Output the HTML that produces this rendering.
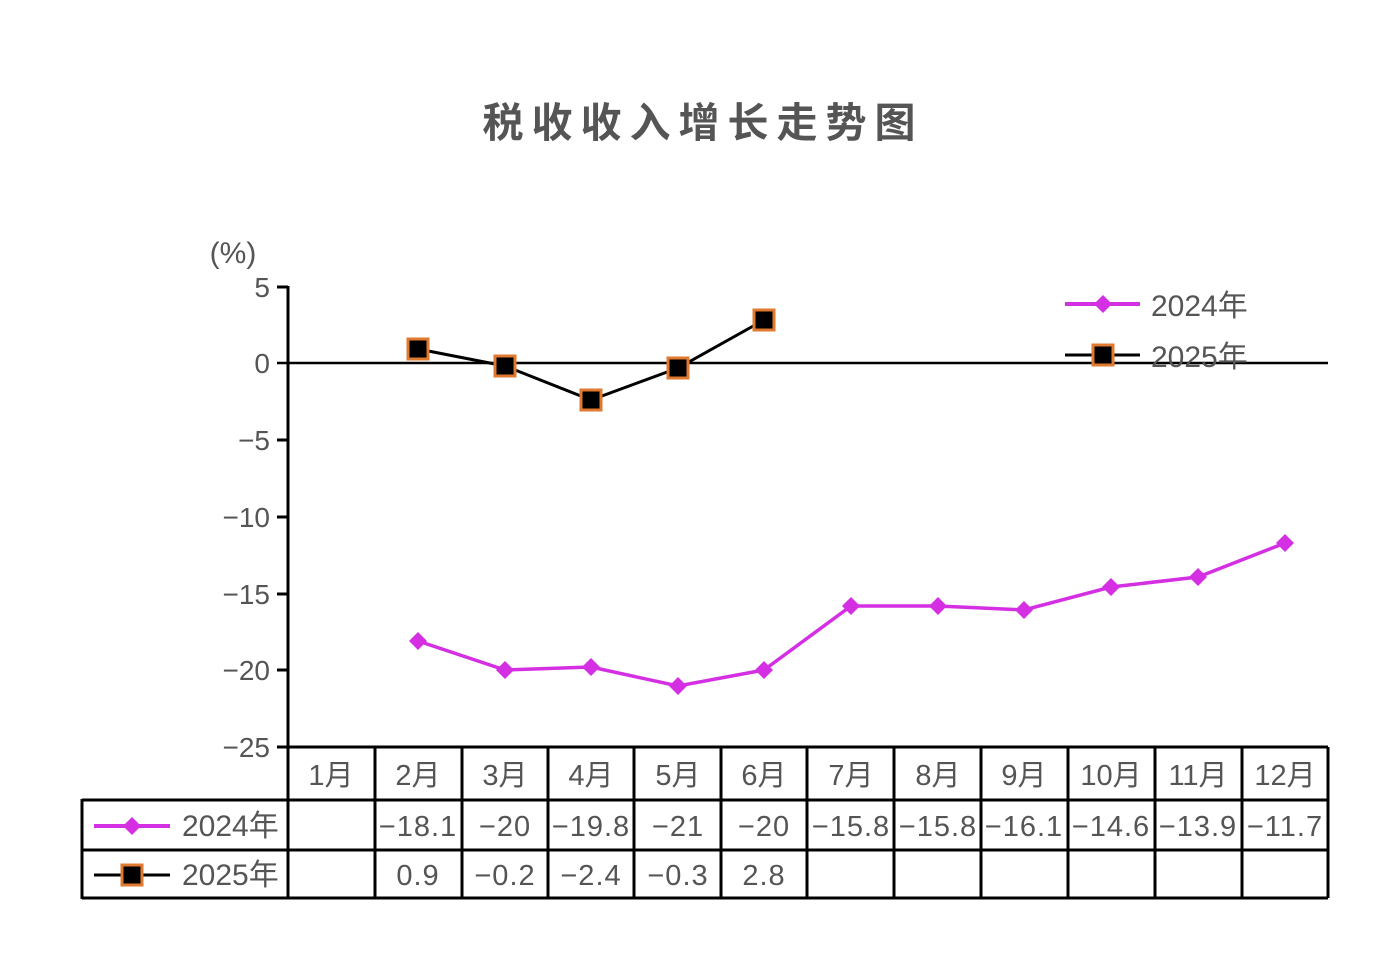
<!DOCTYPE html>
<html><head><meta charset="utf-8"><style>
body{margin:0;background:#fff}
text{font-family:"Liberation Sans","Noto Sans CJK SC",sans-serif;fill:#555}
</style></head><body>
<svg width="1386" height="968" xmlns="http://www.w3.org/2000/svg">
<text x="703" y="137" font-size="41" font-weight="bold" text-anchor="middle" letter-spacing="8">税收收入增长走势图</text>
<text x="233" y="263" font-size="30" text-anchor="middle">(%)</text>
<g font-size="28" text-anchor="end">
<text x="270" y="297">5</text><text x="270" y="373">0</text><text x="270" y="450">−5</text>
<text x="270" y="527">−10</text><text x="270" y="604">−15</text><text x="270" y="680">−20</text><text x="270" y="757">−25</text>
</g>
<g stroke="#000" stroke-width="3" fill="none">
<line x1="288" y1="286" x2="288" y2="898"/>
<line x1="277" y1="287" x2="288" y2="287"/><line x1="277" y1="440" x2="288" y2="440"/>
<line x1="277" y1="517" x2="288" y2="517"/><line x1="277" y1="594" x2="288" y2="594"/>
<line x1="277" y1="670" x2="288" y2="670"/><line x1="277" y1="747" x2="288" y2="747"/>
<line x1="277" y1="363" x2="1328" y2="363" stroke-width="2.5"/>
<line x1="288" y1="747" x2="1328" y2="747"/>
<line x1="82" y1="800" x2="1328" y2="800"/>
<line x1="82" y1="850" x2="1328" y2="850"/>
<line x1="82" y1="898" x2="1328" y2="898"/>
<line x1="82" y1="799" x2="82" y2="899"/>
<line x1="375" y1="747" x2="375" y2="898"/><line x1="462" y1="747" x2="462" y2="898"/>
<line x1="548" y1="747" x2="548" y2="898"/><line x1="634" y1="747" x2="634" y2="898"/>
<line x1="721" y1="747" x2="721" y2="898"/><line x1="807" y1="747" x2="807" y2="898"/>
<line x1="894" y1="747" x2="894" y2="898"/><line x1="981" y1="747" x2="981" y2="898"/>
<line x1="1068" y1="747" x2="1068" y2="898"/><line x1="1155" y1="747" x2="1155" y2="898"/>
<line x1="1242" y1="747" x2="1242" y2="898"/><line x1="1328" y1="747" x2="1328" y2="898"/>
</g>
<polyline fill="none" stroke="#d42fe3" stroke-width="3.5" points="418,641 505,670 591,667 678,686 764,670 851,606 938,606 1024,610 1111,587 1198,577 1285,543"/>
<g fill="#d42fe3">
<path d="M418,632l9,9l-9,9l-9,-9z"/><path d="M505,661l9,9l-9,9l-9,-9z"/><path d="M591,658l9,9l-9,9l-9,-9z"/>
<path d="M678,677l9,9l-9,9l-9,-9z"/><path d="M764,661l9,9l-9,9l-9,-9z"/><path d="M851,597l9,9l-9,9l-9,-9z"/>
<path d="M938,597l9,9l-9,9l-9,-9z"/><path d="M1024,601l9,9l-9,9l-9,-9z"/><path d="M1111,578l9,9l-9,9l-9,-9z"/>
<path d="M1198,568l9,9l-9,9l-9,-9z"/><path d="M1285,534l9,9l-9,9l-9,-9z"/>
</g>
<polyline fill="none" stroke="#000" stroke-width="3" points="418,349 505,366 591,400 678,368 764,320"/>
<g fill="#000" stroke="#e07a30" stroke-width="3">
<rect x="408" y="339" width="20" height="20"/><rect x="495" y="356" width="20" height="20"/>
<rect x="581" y="390" width="20" height="20"/><rect x="668" y="358" width="20" height="20"/>
<rect x="754" y="310" width="20" height="20"/>
</g>
<line x1="1065" y1="304" x2="1140" y2="304" stroke="#d42fe3" stroke-width="4"/>
<path d="M1103,295l9,9l-9,9l-9,-9z" fill="#d42fe3"/>
<text x="1151" y="316" font-size="30">2024年</text>
<line x1="1065" y1="355" x2="1140" y2="355" stroke="#000" stroke-width="3"/>
<rect x="1093" y="345" width="20" height="20" fill="#000" stroke="#e07a30" stroke-width="3"/>
<text x="1151" y="367" font-size="30">2025年</text>
<g font-size="29" text-anchor="middle">
<text x="331" y="785">1月</text><text x="418" y="785">2月</text><text x="505" y="785">3月</text>
<text x="591" y="785">4月</text><text x="678" y="785">5月</text><text x="764" y="785">6月</text>
<text x="851" y="785">7月</text><text x="938" y="785">8月</text><text x="1024" y="785">9月</text>
<text x="1111" y="785">10月</text><text x="1198" y="785">11月</text><text x="1285" y="785">12月</text>
</g>
<g font-size="29" text-anchor="middle" letter-spacing="1">
<text x="418" y="836">−18.1</text><text x="505" y="836">−20</text><text x="591" y="836">−19.8</text>
<text x="678" y="836">−21</text><text x="764" y="836">−20</text><text x="851" y="836">−15.8</text>
<text x="938" y="836">−15.8</text><text x="1024" y="836">−16.1</text><text x="1111" y="836">−14.6</text>
<text x="1198" y="836">−13.9</text><text x="1285" y="836">−11.7</text>
<text x="418" y="885">0.9</text><text x="505" y="885">−0.2</text><text x="591" y="885">−2.4</text>
<text x="678" y="885">−0.3</text><text x="764" y="885">2.8</text>
</g>
<line x1="94" y1="826" x2="170" y2="826" stroke="#d42fe3" stroke-width="4"/>
<path d="M132,817l9,9l-9,9l-9,-9z" fill="#d42fe3"/>
<text x="182" y="836" font-size="30">2024年</text>
<line x1="94" y1="875" x2="170" y2="875" stroke="#000" stroke-width="3"/>
<rect x="122" y="865" width="20" height="20" fill="#000" stroke="#e07a30" stroke-width="3"/>
<text x="182" y="885" font-size="30">2025年</text>
</svg>
</body></html>
